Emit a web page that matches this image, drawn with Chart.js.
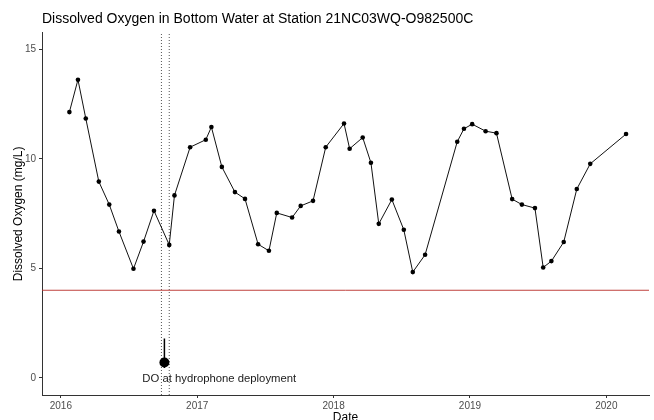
<!DOCTYPE html>
<html>
<head>
<meta charset="utf-8">
<script src="https://cdn.jsdelivr.net/npm/chart.js@4/dist/chart.umd.min.js"></script>
<style>
  html, body { margin: 0; padding: 0; background: #fff; }
  #wrap { width: 654px; height: 420px; }
</style>
</head>
<body>
<div id="wrap"><canvas id="doChart"></canvas></div>
<script>
// sample dates and bottom water DO (mg/L)
const sampleDates = [
  '2016-01-24', '2016-02-16', '2016-03-08', '2016-04-12', '2016-05-10', '2016-06-05',
  '2016-07-14', '2016-08-10', '2016-09-07', '2016-10-18', '2016-11-01', '2016-12-13',
  '2017-01-24', '2017-02-08', '2017-03-08', '2017-04-12', '2017-05-09', '2017-06-13',
  '2017-07-12', '2017-08-02', '2017-09-12', '2017-10-05', '2017-11-07', '2017-12-11',
  '2018-01-29', '2018-02-13', '2018-03-20', '2018-04-11', '2018-05-02', '2018-06-06',
  '2018-07-08', '2018-08-01', '2018-09-03', '2018-11-28', '2018-12-16', '2019-01-07',
  '2019-02-12', '2019-03-13', '2019-04-24', '2019-05-20', '2019-06-24', '2019-07-16',
  '2019-08-07', '2019-09-09', '2019-10-14', '2019-11-19', '2020-02-23'
];
const doValues = [
  12.13, 13.61, 11.84, 8.96, 7.91, 6.68,
  4.98, 6.22, 7.63, 6.07, 8.33, 10.53,
  10.87, 11.45, 9.63, 8.48, 8.17, 6.10,
  5.80, 7.53, 7.32, 7.85, 8.08, 10.53,
  11.61, 10.46, 10.97, 9.82, 7.03, 8.14,
  6.76, 4.83, 5.62, 10.78, 11.37, 11.58,
  11.26, 11.17, 8.16, 7.91, 7.75, 5.04,
  5.33, 6.20, 8.62, 9.77, 11.13
];

// hydrophone deployment window + DO reading at deployment
const deployWindow = ['2016-09-27', '2016-10-18'];
const deployDate = '2016-10-05';
const deployDO = 0.70;
const deployRange = [0.45, 1.80];
const deployLabel = 'DO at hydrophone deployment';
const deployLabelDate = '2017-03-01';
const deployLabelDO = -0.05;

const hypoxiaLimit = 4;

const xTickYears = [2016, 2017, 2018, 2019, 2020];
const yTickValues = [0, 5, 10, 15];
const xMin = 2015.862, xMax = 2020.313;
const yMin = -0.78, yMax = 15.75;

// date string -> decimal year so a plain linear axis can be used
function toYear(s) {
  const d = new Date(s + 'T00:00:00Z');
  const y = d.getUTCFullYear();
  const start = Date.UTC(y, 0, 1), end = Date.UTC(y + 1, 0, 1);
  return y + (d - start) / (end - start);
}

const FONT = "'Liberation Sans', Arial, sans-serif";

const series = sampleDates.map((d, i) => ({ x: toYear(d), y: doValues[i] }));

const deployLines = deployWindow.map(d => ({
  type: 'line',
  data: [{ x: toYear(d), y: yMin }, { x: toYear(d), y: yMax }],
  borderColor: '#555',
  borderWidth: 1,
  borderDash: [1, 2],
  pointRadius: 0,
  order: 3
}));

// draws the annotation text at data coordinates
const labelPlugin = {
  id: 'deployLabel',
  afterDatasetsDraw(chart) {
    const { ctx, scales } = chart;
    ctx.save();
    ctx.font = '11.3px ' + FONT;
    ctx.fillStyle = '#1a1a1a';
    ctx.textAlign = 'center';
    ctx.textBaseline = 'middle';
    ctx.fillText(deployLabel, scales.x.getPixelForValue(toYear(deployLabelDate)), scales.y.getPixelForValue(deployLabelDO));
    ctx.restore();
  }
};

const ctx = document.getElementById('doChart').getContext('2d');
new Chart(ctx, {
  type: 'line',
  data: {
    datasets: [
      {
        data: series,
        borderColor: '#111',
        borderWidth: 1,
        pointRadius: 2.3,
        pointBackgroundColor: '#000',
        pointBorderWidth: 0,
        tension: 0,
        order: 1
      },
      {
        data: [{ x: toYear(deployDate), y: deployDO }],
        showLine: false,
        pointRadius: 5,
        pointBackgroundColor: '#000',
        pointBorderWidth: 0,
        order: 1
      },
      {
        data: [{ x: toYear(deployDate), y: deployRange[0] }, { x: toYear(deployDate), y: deployRange[1] }],
        borderColor: '#000',
        borderWidth: 1.5,
        pointRadius: 0,
        order: 2
      },
      {
        data: [{ x: xMin, y: hypoxiaLimit }, { x: xMax, y: hypoxiaLimit }],
        borderColor: 'rgba(185, 45, 40, 0.9)',
        borderWidth: 1,
        pointRadius: 0,
        order: 3
      },
      ...deployLines
    ]
  },
  options: {
    responsive: true,
    maintainAspectRatio: false,
    animation: false,
    layout: { padding: 0 },
    plugins: {
      legend: { display: false },
      tooltip: { enabled: false },
      title: {
        display: true,
        text: 'Dissolved Oxygen in Bottom Water at Station 21NC03WQ-O982500C',
        align: 'start',
        fullSize: false,
        color: '#000',
        font: { family: FONT, size: 14, weight: 'normal' },
        padding: { top: 11, bottom: 5 }
      }
    },
    scales: {
      x: {
        type: 'linear',
        min: xMin,
        max: xMax,
        afterBuildTicks: s => { s.ticks = xTickYears.map(v => ({ value: v })); },
        afterFit: s => { s.height = 25; },
        ticks: {
          color: '#4d4d4d',
          font: { family: FONT, size: 10 },
          padding: 2,
          maxRotation: 0,
          callback: v => String(v)
        },
        grid: { drawOnChartArea: false, drawTicks: true, tickLength: 3, color: '#333' },
        border: { display: true, color: '#333', width: 1 },
        title: {
          display: true,
          text: 'Date',
          color: '#000',
          font: { family: FONT, size: 12 },
          padding: { top: 0, bottom: -5 }
        }
      },
      y: {
        min: yMin,
        max: yMax,
        afterBuildTicks: s => { s.ticks = yTickValues.map(v => ({ value: v })); },
        afterFit: s => { s.width = 42; },
        ticks: {
          color: '#4d4d4d',
          font: { family: FONT, size: 10 },
          padding: 3
        },
        grid: { drawOnChartArea: false, drawTicks: true, tickLength: 3, color: '#333' },
        border: { display: true, color: '#333', width: 1 },
        title: {
          display: true,
          text: 'Dissolved Oxygen (mg/L)',
          color: '#000',
          font: { family: FONT, size: 12 },
          padding: { top: 11, bottom: 0 }
        }
      }
    }
  },
  plugins: [labelPlugin]
});
</script>
</body>
</html>
